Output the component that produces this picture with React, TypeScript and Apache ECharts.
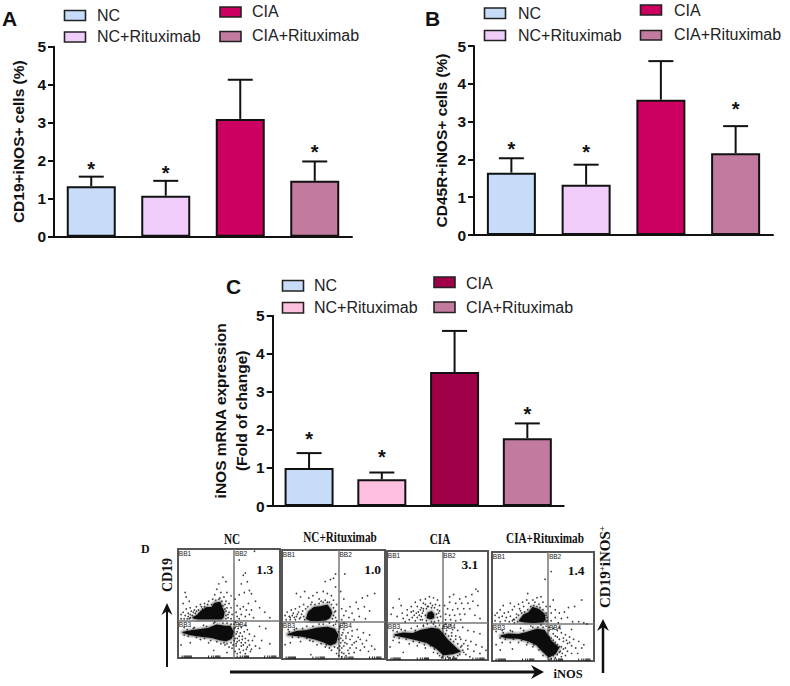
import React, { useEffect, useRef } from "react";
import * as echarts from "echarts";

const groups = ["NC", "NC+Rituximab", "CIA", "CIA+Rituximab"];
const colorsAB = ["#C6DCF8", "#EFCDF8", "#CC0060", "#C27B9E"];
const colorsC = ["#C6DCF8", "#FFC0E0", "#A00048", "#C27B9E"];
const yTicksMax = 5;

const meanA = [1.33, 1.08, 3.1, 1.47];
const upperA = [1.58, 1.47, 4.13, 1.98];
const starA = [1.83, 1.73, null, 2.28];
const meanB = [1.65, 1.33, 3.58, 2.16];
const upperB = [2.03, 1.86, 4.6, 2.88];
const starB = [2.33, 2.25, null, 3.38];
const meanC = [1.0, 0.7, 3.52, 1.78];
const upperC = [1.39, 0.88, 4.6, 2.17];
const starC = [1.8, 1.34, null, 2.47];

const flowTitles = ["NC", "NC+Rituximab", "CIA", "CIA+Rituximab"];
const flowValues = ["1.3", "1.0", "3.1", "1.4"];
const flowValuePos = [[85, 81], [88, 82], [82, 88], [82.5, 83]];
const gateX = 55;
const gateY = 34;
const gateNames = ["BB1", "BB2", "BB3", "BB4"];
const logTicks = [4, 6, 7, 8, 9, 10, 11, 12, 13, 30, 33, 35, 37, 38, 39, 40, 41, 58, 61, 63, 65, 66, 67, 68, 69, 85, 88, 90, 92, 93, 94, 95, 96];

const blobs1 = [
  [[15, 37], [19, 39], [23, 43], [28, 46], [33, 46], [36, 50], [41, 51], [43, 46], [45, 42], [44, 37], [42, 36], [30, 36], [20, 36]],
  [[5, 23.5], [14, 25], [22, 26], [30, 27], [38, 30], [46, 29], [51, 29], [54, 24], [52, 18], [47, 16], [41, 17], [33, 19], [24, 20], [12, 21.5]],
];
const blobs2 = [
  [[24, 37], [26, 43], [31, 47], [38, 48], [44, 49], [47, 45], [48, 42], [46, 38], [42, 36], [36, 35.5], [28, 35.5]],
  [[6, 22.5], [14, 25], [24, 26], [34, 28], [44, 29], [51, 27], [54, 22], [52, 15], [47, 13], [40, 16], [32, 18.5], [20, 21]],
];
const blobs3 = [
  [[40, 39], [41, 43], [44, 44], [46, 42], [46, 39], [43, 38]],
  [[8, 23], [16, 24.5], [25, 24], [34, 27], [44, 29], [51, 28], [55, 24], [60, 18], [69, 10], [72, 8], [65, 6], [56, 5], [49, 11], [40, 16], [30, 18.5], [18, 21]],
];
const blobs4 = [
  [[27, 37], [31, 42], [36, 44], [40, 49], [46, 47], [51, 43], [52, 38], [50, 36], [40, 35.5], [32, 36]],
  [[9, 23], [16, 24.5], [26, 24], [34, 26], [44, 29], [51, 28], [54, 24], [58, 18], [65, 12], [62, 7], [56, 4], [50, 9], [44, 15], [36, 18.5], [26, 21], [14, 21.5]],
];

const dots1 = [
  [47, 70], [44, 74], [40, 68], [42, 60], [38, 63], [36, 58], [45, 56], [41, 55], [48, 60], [52, 57], [34, 54], [30, 52], [26, 50], [22, 49], [18, 47], [12, 46], [8, 45], [5, 42], [3, 40], [7, 39], [10, 41], [13, 43], [16, 44], [6, 36], [3, 36], [9, 36], [47, 52], [50, 50], [52, 46], [50, 42], [53, 40], [49, 37], [47, 36], [52, 36], [7, 60], [8, 56], [5, 50], [11, 52],
  [60, 90], [64, 76], [66, 78], [68, 70], [70, 62], [62, 68], [65, 60], [72, 59], [60, 58], [56, 54], [58, 48], [61, 45], [64, 47], [67, 44], [70, 40], [66, 38], [62, 40], [58, 38], [72, 44], [76, 52], [80, 46], [85, 42], [90, 37], [74, 37], [57, 42], [60, 36], [69, 50], [75, 98],
  [56, 28], [58, 24], [60, 20], [63, 17], [66, 14], [70, 12], [73, 16], [58, 15], [62, 11], [67, 8], [60, 8], [57, 11], [72, 8], [76, 11], [80, 9], [82, 16], [86, 27], [80, 29], [90, 13], [75, 20], [70, 22], [65, 24], [62, 28], [68, 26], [56, 18], [54, 12], [50, 10], [46, 12], [42, 13], [30, 14], [22, 17], [12, 14], [3, 12], [35, 7], [48, 5], [58, 4], [66, 4], [44, 32], [35, 32], [25, 30], [15, 27], [6, 28], [52, 31], [56, 33], [60, 31], [66, 30],
];
const fringe1 = [
  [10, 38], [12, 40], [14, 39], [11, 36], [15, 42], [18, 43], [20, 44], [23, 47], [26, 47], [29, 49], [33, 49], [37, 53], [40, 54], [43, 52], [46, 49], [48, 46], [47, 43], [49, 40], [47, 39], [12, 37], [17, 41], [24, 45], [35, 48], [44, 48], [46, 45],
  [57, 22], [55, 27], [54, 20], [58, 18], [60, 16], [62, 14], [64, 12], [57, 13], [55, 16], [52, 14], [48, 13], [45, 14], [38, 15], [32, 16], [26, 18], [18, 19], [10, 20], [6, 21], [9, 26], [16, 28], [28, 29], [36, 33], [48, 32], [55, 31], [59, 27], [61, 23], [63, 20], [66, 18], [69, 16], [53, 9], [56, 6], [61, 5], [64, 7], [68, 10], [71, 6],
];
const dots2 = [
  [52, 78], [50, 74], [47, 73], [42, 71], [40, 62], [44, 60], [52, 66], [48, 58], [34, 61], [30, 58], [22, 62], [14, 60], [18, 57], [26, 56], [36, 55], [42, 54], [50, 54], [46, 52], [53, 50], [21, 50], [17, 48], [13, 46], [9, 45], [5, 43], [3, 40], [7, 39], [11, 42], [15, 41], [18, 38], [8, 36], [4, 36], [13, 36], [52, 44], [52, 38], [53, 35],
  [61, 78], [57, 62], [60, 55], [66, 48], [72, 52], [78, 56], [83, 58], [90, 60], [74, 46], [80, 48], [85, 44], [68, 42], [62, 44], [58, 46], [60, 40], [65, 38], [70, 36], [75, 39], [58, 36], [81, 37],
  [56, 30], [60, 27], [64, 24], [58, 22], [62, 19], [66, 18], [70, 15], [74, 20], [78, 14], [82, 17], [87, 12], [90, 9], [72, 10], [66, 10], [60, 12], [57, 15], [56, 8], [60, 5], [65, 5], [70, 6], [76, 8], [84, 7], [68, 26], [73, 27], [79, 24], [85, 22], [53, 5], [58, 2], [48, 8], [42, 11], [34, 13], [27, 17], [18, 16], [8, 15], [3, 13], [28, 4], [46, 33], [36, 32], [24, 30], [14, 28], [6, 27], [52, 32], [60, 33],
];
const fringe2 = [
  [8, 38], [10, 40], [12, 38], [16, 43], [19, 41], [21, 39], [20, 44], [23, 46], [25, 48], [28, 50], [32, 50], [36, 51], [40, 52], [44, 52], [48, 50], [50, 47], [51, 43], [50, 40], [49, 37], [14, 39], [17, 37], [22, 36], [25, 41], [29, 52], [38, 53],
  [57, 19], [55, 25], [55, 18], [56, 12], [59, 17], [61, 15], [63, 14], [58, 10], [54, 10], [51, 11], [46, 10], [43, 13], [38, 14], [30, 16], [24, 19], [16, 20], [10, 20], [7, 25], [12, 27], [20, 28], [30, 30], [40, 32], [50, 31], [56, 28], [59, 24], [62, 21], [68, 21], [72, 16], [64, 8], [62, 3], [55, 3], [68, 13], [76, 18], [80, 11], [58, 6],
];
const dots3 = [
  [42, 58], [38, 56], [46, 57], [33, 55], [50, 55], [28, 53], [36, 52], [43, 52], [48, 51], [52, 50], [24, 49], [30, 49], [34, 48], [40, 49], [45, 50], [20, 46], [26, 45], [31, 44], [36, 45], [15, 43], [20, 41], [27, 41], [32, 41], [22, 37], [28, 36], [33, 37], [16, 38], [10, 40], [18, 35], [52, 45], [53, 40], [51, 36], [49, 42], [38, 41], [12, 56], [6, 48], [4, 42], [14, 50],
  [66, 60], [62, 58], [72, 56], [78, 58], [84, 60], [88, 65], [90, 63], [85, 54], [80, 52], [74, 52], [68, 52], [62, 53], [57, 50], [60, 47], [65, 46], [70, 47], [76, 47], [82, 47], [58, 42], [62, 41], [67, 41], [72, 42], [77, 42], [58, 37], [63, 37], [68, 36], [73, 37], [87, 41], [92, 38], [90, 50],
  [56, 31], [60, 30], [65, 28], [70, 27], [75, 30], [80, 27], [86, 26], [92, 24], [64, 22], [68, 19], [73, 19], [78, 18], [83, 17], [88, 14], [94, 12], [98, 9], [74, 13], [80, 10], [86, 8], [92, 6], [78, 5], [82, 3], [70, 4], [62, 2], [54, 2], [46, 7], [38, 11], [30, 13], [22, 15], [12, 16], [6, 18], [3, 12], [16, 7], [46, 33], [36, 32], [24, 29], [14, 28], [6, 27], [30, 31], [52, 32], [40, 33],
];
const fringe3 = [
  [34, 40], [35, 43], [33, 46], [36, 47], [39, 47], [41, 49], [44, 48], [47, 48], [50, 46], [51, 43], [50, 39], [47, 35], [44, 35], [39, 36], [35, 37], [30, 39], [29, 43], [25, 39], [24, 44], [38, 51],
  [58, 24], [61, 22], [63, 19], [66, 17], [70, 15], [73, 12], [75, 9], [76, 7], [72, 5], [66, 3], [60, 3], [55, 3], [50, 6], [47, 10], [43, 13], [37, 14], [32, 16], [26, 17], [19, 19], [12, 20], [7, 21], [10, 26], [18, 27], [28, 27], [36, 31], [48, 31], [55, 29], [59, 27], [64, 25], [68, 22], [72, 21], [76, 15], [80, 13], [58, 33], [63, 32], [52, 4],
];
const dots4 = [
  [52, 75], [35, 62], [48, 59], [44, 58], [40, 56], [34, 56], [30, 54], [26, 52], [50, 54], [46, 52], [53, 50], [22, 50], [18, 53], [20, 47], [16, 45], [12, 44], [8, 47], [5, 44], [3, 42], [7, 40], [10, 41], [14, 40], [18, 41], [21, 38], [3, 37], [8, 36], [13, 37], [17, 36], [22, 35], [53, 42], [54, 37], [24, 43], [28, 46], [11, 51],
  [58, 82], [60, 56], [57, 50], [62, 47], [66, 44], [71, 45], [75, 49], [81, 50], [88, 56], [58, 44], [62, 40], [68, 39], [74, 40], [79, 36], [85, 36], [90, 35], [58, 37], [65, 35], [93, 34],
  [56, 31], [60, 30], [64, 28], [68, 26], [72, 24], [76, 22], [80, 20], [85, 18], [90, 15], [62, 23], [66, 20], [70, 18], [74, 16], [78, 14], [82, 12], [88, 12], [70, 11], [74, 9], [78, 7], [84, 7], [66, 8], [68, 4], [62, 3], [58, 2], [56, 1], [50, 5], [46, 10], [40, 13], [34, 15], [26, 17], [18, 17], [10, 17], [4, 15], [8, 10], [20, 11], [48, 33], [38, 32], [28, 30], [18, 28], [10, 28], [4, 27], [53, 32], [45, 31], [66, 31], [78, 29],
];
const fringe4 = [
  [22, 38], [24, 40], [26, 42], [29, 44], [32, 45], [35, 47], [38, 50], [41, 51], [44, 50], [47, 49], [50, 47], [53, 44], [54, 40], [53, 36], [25, 36], [20, 37], [27, 48], [31, 50], [36, 53], [42, 54],
  [56, 22], [58, 21], [60, 19], [62, 17], [64, 15], [66, 13], [68, 13], [67, 9], [64, 6], [60, 5], [57, 5], [53, 6], [50, 11], [46, 13], [41, 15], [35, 17], [29, 19], [21, 20], [13, 20], [8, 21], [11, 26], [20, 27], [31, 28], [40, 31], [50, 31], [56, 28], [60, 25], [64, 22], [70, 21], [73, 19], [76, 17], [72, 12], [58, 8], [62, 10], [69, 7], [72, 5],
];

const flowBlobs = [blobs1, blobs2, blobs3, blobs4];
const flowDots = [dots1.concat(fringe1), dots2.concat(fringe2), dots3.concat(fringe3), dots4.concat(fringe4)];

const SANS = "Liberation Sans";
const SERIF = "Liberation Serif";

function barPanel(idx: number, rect: number[], mean: number[], upper: number[], star: (number | null)[], colors: string[], yName: string, nameGap: number) {
  return {
    grid: { left: rect[0], top: rect[1], width: rect[2], height: rect[3] },
    xAxis: {
      gridIndex: idx, type: "category", data: groups,
      axisLine: { lineStyle: { color: "#111", width: 2 } },
      axisTick: { show: false }, axisLabel: { show: false },
    },
    yAxis: {
      gridIndex: idx, type: "value", min: 0, max: yTicksMax, interval: 1,
      name: yName, nameLocation: "middle", nameGap,
      nameTextStyle: { fontFamily: SANS, fontWeight: "bold", fontSize: 15.5, color: "#111", lineHeight: 21 },
      axisLine: { show: true, onZero: false, lineStyle: { color: "#111", width: 2 } },
      axisTick: { show: true, length: 6, lineStyle: { color: "#111", width: 2 } },
      axisLabel: { fontFamily: SANS, fontWeight: "bold", fontSize: 15.5, color: "#111", margin: 8 },
      splitLine: { show: false },
    },
    series: [
      {
        type: "custom", xAxisIndex: idx, yAxisIndex: idx, z: 1,
        data: mean.map((m, i) => [i, m, upper[i]]),
        renderItem: (_p: any, api: any) => {
          const base = api.coord([api.value(0), api.value(1)]);
          const top = api.coord([api.value(0), api.value(2)]);
          const line = (x1: number, y1: number, x2: number, y2: number) => ({
            type: "line", shape: { x1, y1, x2, y2 }, style: { stroke: "#111", lineWidth: 2 },
          });
          return {
            type: "group",
            children: [line(base[0], base[1], base[0], top[1]), line(base[0] - 12.5, top[1], base[0] + 12.5, top[1])],
          };
        },
      },
      {
        type: "bar", xAxisIndex: idx, yAxisIndex: idx, barWidth: 49, z: 2,
        data: mean.map((v, i) => ({ value: v, itemStyle: { color: colors[i], borderColor: "#111", borderWidth: 2 } })),
      },
      {
        type: "custom", xAxisIndex: idx, yAxisIndex: idx, z: 3,
        data: star.map((s, i) => [i, s]).filter((d) => d[1] !== null),
        renderItem: (_p: any, api: any) => {
          const c = api.coord([api.value(0), api.value(1)]);
          return {
            type: "text", x: c[0], y: c[1] + 2,
            style: { text: "*", fontFamily: SANS, fontWeight: "bold", fontSize: 20, fill: "#111", align: "center", verticalAlign: "middle" },
          };
        },
      },
    ],
  };
}

function flowPanel(idx: number, rect: number[], p: number) {
  return {
    grid: { left: rect[0], top: rect[1], width: rect[2], height: rect[3], show: true, borderColor: "#555", borderWidth: 2, backgroundColor: "#fff" },
    xAxis: { gridIndex: idx, type: "value", min: 0, max: 100, show: false },
    yAxis: { gridIndex: idx, type: "value", min: 0, max: 100, show: false },
    series: [
      {
        type: "scatter", xAxisIndex: idx, yAxisIndex: idx, z: 3, symbol: "circle", symbolSize: 1.7,
        itemStyle: { color: "#111" }, data: flowDots[p],
        markLine: {
          silent: true, symbol: "none", label: { show: false }, z: 1,
          lineStyle: { color: "#777", width: 1.5, type: "solid" },
          data: [{ xAxis: gateX }, { yAxis: gateY }],
        },
      },
      {
        type: "custom", xAxisIndex: idx, yAxisIndex: idx, z: 2,
        data: flowBlobs[p].map((_b, i) => [i]),
        renderItem: (_p: any, api: any) => {
          const points = flowBlobs[p][api.value(0)].map((pt) => api.coord(pt));
          return {
            type: "group",
            children: [
              { type: "polygon", shape: { points }, style: { fill: "#555", stroke: "#555", lineWidth: 7, lineJoin: "round", opacity: 0.16 } },
              { type: "polygon", shape: { points }, style: { fill: "#333", stroke: "#333", lineWidth: 4, lineJoin: "round", opacity: 0.3 } },
              { type: "polygon", shape: { points }, style: { fill: "#0c0c0c", stroke: "#0c0c0c", lineWidth: 1.5, lineJoin: "round" } },
            ],
          };
        },
      },
      {
        type: "custom", xAxisIndex: idx, yAxisIndex: idx, z: 2,
        data: logTicks.map((t) => [t]),
        renderItem: (_p: any, api: any) => {
          const a = api.coord([api.value(0), 0]);
          return { type: "line", shape: { x1: a[0], y1: a[1], x2: a[0], y2: a[1] - 2.5 }, style: { stroke: "#222", lineWidth: 1 } };
        },
      },
      {
        type: "custom", xAxisIndex: idx, yAxisIndex: idx, z: 4,
        data: gateNames.map((_n, i) => [i % 2 === 0 ? 0.8 : gateX + 0.8, i < 2 ? 96 : gateY - 3, i]),
        renderItem: (_p: any, api: any) => {
          const c = api.coord([api.value(0), api.value(1)]);
          return {
            type: "text", x: c[0], y: c[1],
            style: { text: gateNames[api.value(2)], fontFamily: SANS, fontSize: 6.5, fill: "#222", align: "left", verticalAlign: "middle" },
          };
        },
      },
      {
        type: "custom", xAxisIndex: idx, yAxisIndex: idx, z: 4,
        data: [[flowValuePos[p][0], flowValuePos[p][1]]],
        renderItem: (_p: any, api: any) => {
          const c = api.coord([api.value(0), api.value(1)]);
          return {
            type: "text", x: c[0], y: c[1],
            style: { text: flowValues[p], fontFamily: SERIF, fontWeight: "bold", fontSize: 13.5, fill: "#111", align: "center", verticalAlign: "middle" },
          };
        },
      },
    ],
  };
}

function legendGraphics(colors: string[], sw: number[][], txt: number[][]) {
  const out: any[] = [];
  groups.forEach((g, i) => {
    out.push({
      type: "rect", shape: { x: sw[i][0], y: sw[i][1], width: 21, height: sw[i][2] },
      style: { fill: colors[i], stroke: "#222", lineWidth: 1.6 },
    });
    out.push({
      type: "text", x: txt[i][0], y: txt[i][1],
      style: { text: g, fontFamily: SANS, fontSize: 16, fill: "#222", verticalAlign: "middle" },
    });
  });
  return out;
}

const label = (text: string, x: number, y: number, fontSize = 21) => ({
  type: "text", x, y,
  style: { text, fontFamily: SANS, fontWeight: "bold", fontSize, fill: "#111", verticalAlign: "middle" },
});
const serifText = (text: string, x: number, y: number, fontSize = 11.2, rotation = 0, scaleY = 1) => ({
  type: "text", x, y, rotation, scaleY,
  style: { text, fontFamily: SERIF, fontWeight: "bold", fontSize, fill: "#111", align: "center", verticalAlign: "middle" },
});

export default function App() {
  const ref = useRef<HTMLDivElement>(null);
  useEffect(() => {
    const chart = echarts.init(ref.current!, undefined, { renderer: "svg" });
    const panels = [
      barPanel(0, [54, 46.7, 298, 190], meanA, upperA, starA, colorsAB, "CD19+iNOS+ cells (%)", 25),
      barPanel(1, [474, 46, 299, 189], meanB, upperB, starB, colorsAB, "CD45R+iNOS+ cells (%)", 22),
      barPanel(2, [272.7, 315.7, 291, 190.3], meanC, upperC, starC, colorsC, "iNOS mRNA expression\n(Fold of change)", 18),
      flowPanel(3, [178, 549, 102, 109], 0),
      flowPanel(4, [282, 550, 103, 109], 1),
      flowPanel(5, [387, 551, 101, 109], 2),
      flowPanel(6, [492, 552, 102, 109], 3),
    ];
    const arrowHead = (pts: number[][]) => ({ type: "polygon", shape: { points: pts }, style: { fill: "#111" } });
    const bar = (x1: number, y1: number, x2: number, y2: number, w: number) => ({
      type: "line", shape: { x1, y1, x2, y2 }, style: { stroke: "#111", lineWidth: w },
    });
    chart.setOption({
      animation: false,
      backgroundColor: "#fff",
      grid: panels.map((p) => p.grid),
      xAxis: panels.map((p) => p.xAxis),
      yAxis: panels.map((p) => p.yAxis),
      series: panels.flatMap((p) => p.series),
      graphic: [
        label("A", 2, 18), label("B", 425, 18), label("C", 226, 286),
        ...legendGraphics(colorsAB, [[64.5, 10.5, 10], [64.5, 32, 10], [220, 7, 10], [220, 31.5, 10]], [[97, 15], [97, 36], [252, 11], [252, 35]]),
        ...legendGraphics(colorsAB, [[484.5, 8, 10.5], [484.5, 30.5, 10], [640.5, 5, 10], [640.5, 30.5, 9.5]], [[518, 13], [518, 35], [674, 10], [674, 34]]),
        ...legendGraphics(colorsC, [[282.5, 280.5, 10.5], [282.5, 302.5, 10.5], [434, 277, 10.5], [434, 302, 10.5]], [[314, 285.5], [314, 307.5], [466, 283], [466, 307]]),
        { type: "text", x: 141, y: 549, style: { text: "D", fontFamily: SERIF, fontWeight: "bold", fontSize: 12, fill: "#111", verticalAlign: "middle" } },
        serifText(flowTitles[0], 232, 540, 11.2, 0, 1.25), serifText(flowTitles[1], 340, 538, 11.2, 0, 1.25),
        serifText(flowTitles[2], 440, 540, 11.2, 0, 1.25), serifText(flowTitles[3], 545, 539, 11.2, 0, 1.25),
        serifText("CD19", 167, 575, 14, Math.PI / 2),
        serifText("iNOS", 568, 674, 12.5),
        {
          type: "text", x: 605, y: 567, rotation: Math.PI / 2,
          style: {
            text: "CD19{s|+}iNOS{s|+}", fontFamily: SERIF, fontWeight: "bold", fontSize: 15, fill: "#111",
            align: "center", verticalAlign: "middle",
            rich: { s: { fontFamily: SERIF, fontWeight: "bold", fontSize: 9, fill: "#111", verticalAlign: "top" } },
          },
        },
        bar(167, 667, 167, 610, 2), arrowHead([[167, 603], [161.5, 615], [167, 611], [172.5, 615]]),
        bar(230, 672, 538, 672, 3), arrowHead([[544, 672], [531, 665], [535, 672], [531, 679]]),
        bar(603, 673, 603, 626, 2.5), arrowHead([[603, 619], [597, 631], [603, 627], [609, 631]]),
      ],
    });
    return () => chart.dispose();
  }, []);
  return <div ref={ref} style={{ position: "absolute", left: 0, top: 0, width: 790, height: 686 }} />;
}
